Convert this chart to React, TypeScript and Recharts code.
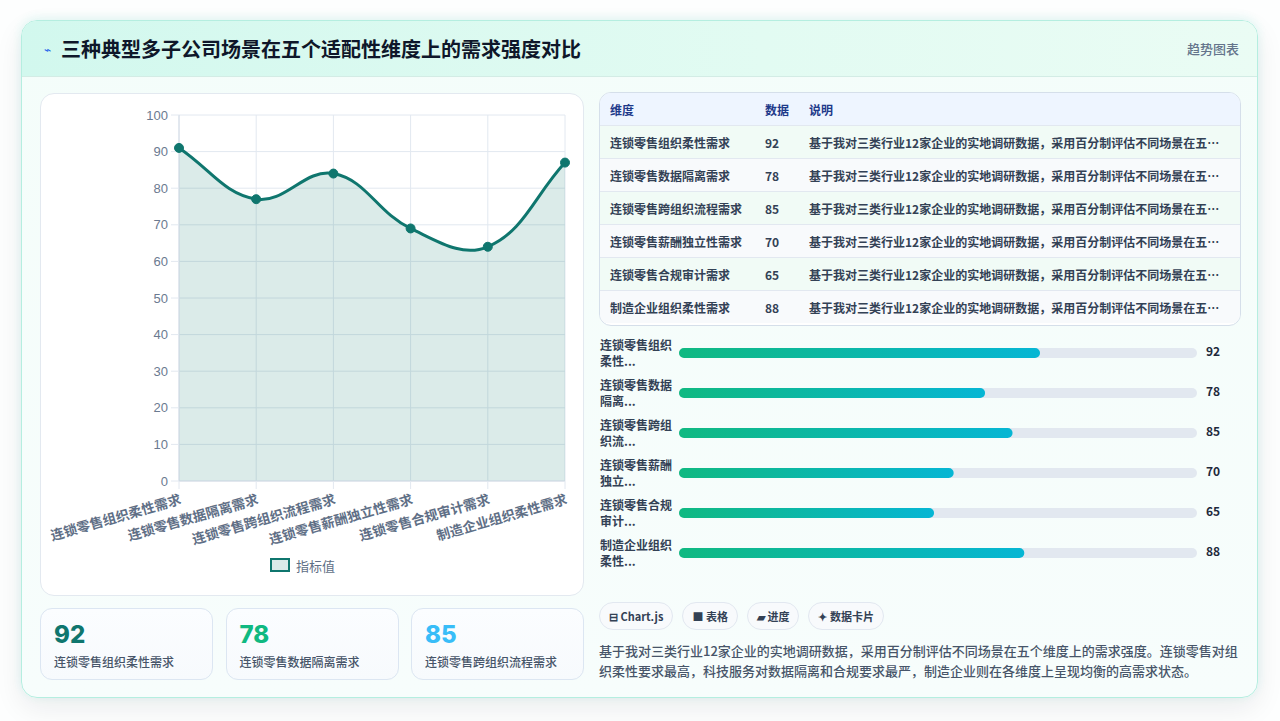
import React from "react";
import {
  Area,
  AreaChart,
  Bar,
  BarChart,
  CartesianGrid,
  Legend,
  XAxis,
  YAxis,
} from "recharts";

const dimensions = [
  "连锁零售组织柔性需求",
  "连锁零售数据隔离需求",
  "连锁零售跨组织流程需求",
  "连锁零售薪酬独立性需求",
  "连锁零售合规审计需求",
  "制造企业组织柔性需求",
];
// values in the table / progress rows
const scores = [92, 78, 85, 70, 65, 88];
// values as plotted in the line chart
const lineValues = [91, 77, 84, 69, 64, 87];
const yTicks = [0, 10, 20, 30, 40, 50, 60, 70, 80, 90, 100];
const progressMax = 132;

const title = "三种典型多子公司场景在五个适配性维度上的需求强度对比";
const note =
  "基于我对三类行业12家企业的实地调研数据，采用百分制评估不同场景在五个维度上的需求强度。";
const summary =
  note +
  "连锁零售对组织柔性要求最高，科技服务对数据隔离和合规要求最严，制造企业则在各维度上呈现均衡的高需求状态。";
const badges = ["⊟ Chart.js", "■ 表格", "▰ 进度", "✦ 数据卡片"];
const cardColors = ["#0f766e", "#10b981", "#38bdf8"];

const lineData = dimensions.map((d, i) => ({ name: d, 指标值: lineValues[i] }));
const progressData = dimensions.map((d, i) => ({ name: d, score: scores[i] }));

const FONT = '"Noto Sans CJK SC", "Noto Sans", sans-serif';

// chart.js style bezier (tension 0.4)
const tensionCurve = (tension: number) => (context: any) => {
  let pts: number[][] = [];
  let line = NaN;
  return {
    areaStart() { line = 0; },
    areaEnd() { line = NaN; },
    lineStart() { pts = []; },
    point(x: number, y: number) { pts.push([+x, +y]); },
    lineEnd() {
      const n = pts.length;
      if (n) {
        if (line) context.lineTo(pts[0][0], pts[0][1]);
        else context.moveTo(pts[0][0], pts[0][1]);
        const cps = pts.map((p, i) => {
          const prev = pts[Math.max(0, i - 1)];
          const next = pts[Math.min(n - 1, i + 1)];
          const d01 = Math.hypot(p[0] - prev[0], p[1] - prev[1]);
          const d12 = Math.hypot(next[0] - p[0], next[1] - p[1]);
          const sum = d01 + d12 || 1;
          const fa = (tension * d01) / sum;
          const fb = (tension * d12) / sum;
          return {
            px: p[0] - fa * (next[0] - prev[0]),
            py: p[1] - fa * (next[1] - prev[1]),
            nx: p[0] + fb * (next[0] - prev[0]),
            ny: p[1] + fb * (next[1] - prev[1]),
          };
        });
        for (let i = 1; i < n; i++) {
          context.bezierCurveTo(cps[i - 1].nx, cps[i - 1].ny, cps[i].px, cps[i].py, pts[i][0], pts[i][1]);
        }
      }
      if (line || (line !== 0 && n === 1)) context.closePath();
      line = 1 - line;
    },
  };
};

const XTick = (props: any) => {
  const { x, y, payload } = props;
  const ty = y + 11;
  return (
    <text
      x={x + 2}
      y={ty}
      textAnchor="end"
      dominantBaseline="middle"
      transform={`rotate(-16, ${x + 2}, ${ty})`}
      fill="#5f6f86"
      fontSize={13.5}
      fontWeight={600}
      fontFamily={FONT}
    >
      {payload.value}
    </text>
  );
};

const LegendBox = () => (
  <div style={{ display: "flex", justifyContent: "center", alignItems: "flex-start", height: 40, boxSizing: "border-box", marginTop: 1 }}>
    <div style={{ display: "flex", alignItems: "center", height: 16 }}>
      <span style={{ width: 16, height: 10, border: "2.5px solid #0f766e", background: "#dbeae9", marginRight: 6 }} />
      <span style={{ fontSize: 13, color: "#5f6f86", fontFamily: FONT }}>指标值</span>
    </div>
  </div>
);

const LabelTick = (props: any) => {
  const { y, payload } = props;
  const name: string = payload.value;
  return (
    <text x={5} y={y} fill="#334155" fontSize={12} fontWeight={600} fontFamily={FONT}>
      <tspan x={5} dy={-3}>{name.slice(0, 6)}</tspan>
      <tspan x={5} dy={16}>{name.slice(6, 8) + "..."}</tspan>
    </text>
  );
};

const ValueTick = (props: any) => {
  const { x, y, payload } = props;
  return (
    <text x={x} y={y} dominantBaseline="middle" fill="#1e293b" fontSize={12} fontWeight={700} fontFamily={FONT}>
      {payload.value}
    </text>
  );
};

const cell: React.CSSProperties = {
  padding: "0 0 0 10px",
  height: 32,
  whiteSpace: "nowrap",
  overflow: "hidden",
  textOverflow: "ellipsis",
  borderTop: "1px solid #e2e8f0",
};

export default function App() {
  return (
    <div style={{ position: "fixed", left: 0, top: 0, width: 1280, height: 721, background: "#fdfefe", fontFamily: FONT, overflow: "hidden" }}>
      <div
        style={{
          position: "absolute",
          left: 21,
          top: 20,
          width: 1237,
          height: 678,
          boxSizing: "border-box",
          border: "1px solid #b5eee0",
          borderRadius: 16,
          background: "linear-gradient(180deg, #f4fdfa 0%, #f7fdfc 100%)",
          boxShadow: "0 10px 28px rgba(15,23,42,0.08), 0 -2px 10px rgba(45,212,191,0.12)",
          overflow: "hidden",
        }}
      >
        {/* header */}
        <div
          style={{
            height: 56,
            boxSizing: "border-box",
            borderBottom: "1px solid #d3ece5",
            background: "linear-gradient(90deg, #d2f8ee 0%, #e2fbf2 60%, #eafcf4 100%)",
            display: "flex",
            alignItems: "center",
            padding: "0 18px 0 22px",
          }}
        >
          <span style={{ color: "#2563eb", fontSize: 12, marginRight: 10 }}>⌁</span>
          <span style={{ fontSize: 20, fontWeight: 700, color: "#0f172a" }}>{title}</span>
          <span style={{ marginLeft: "auto", fontSize: 13, color: "#64748b", fontWeight: 500 }}>趋势图表</span>
        </div>
      </div>

      {/* line chart card */}
      <div style={{ position: "absolute", left: 40, top: 93, width: 544, height: 503, boxSizing: "border-box", background: "#fff", border: "1px solid #e3e9f0", borderRadius: 14 }}>
        <div style={{ position: "absolute", left: -1, top: -1 }}>
          <AreaChart width={544} height={503} data={lineData} margin={{ top: 22, right: 19, left: 0, bottom: 0 }}>
            <CartesianGrid stroke="#e2e8f0" strokeWidth={1} />
            <XAxis
              dataKey="name"
              interval={0}
              height={75}
              tick={<XTick />}
              tickSize={8}
              tickMargin={0}
              tickLine={{ stroke: "#e2e8f0" }}
              axisLine={{ stroke: "#d3dce6" }}
            />
            <YAxis
              domain={[0, 100]}
              ticks={yTicks}
              width={139}
              tickSize={8}
              tickMargin={3}
              tickLine={{ stroke: "#e2e8f0" }}
              axisLine={{ stroke: "#d3dce6" }}
              tick={{ fill: "#6b7a90", fontSize: 13, fontFamily: "Liberation Sans, Arial, sans-serif" }}
            />
            <Legend verticalAlign="bottom" height={40} content={<LegendBox />} />
            <Area
              dataKey="指标值"
              type={tensionCurve(0.4) as any}
              stroke="#0f766e"
              strokeWidth={3}
              fill="#0f766e"
              fillOpacity={0.15}
              dot={{ r: 4.5, fill: "#0f766e", stroke: "#0f766e", strokeWidth: 1, fillOpacity: 1 }}
              activeDot={false}
              isAnimationActive={false}
            />
          </AreaChart>
        </div>
      </div>

      {/* metric cards */}
      {[0, 1, 2].map((i) => (
        <div
          key={i}
          style={{
            position: "absolute",
            left: 40 + i * 185.5,
            top: 608,
            width: 173,
            height: 72,
            boxSizing: "border-box",
            border: "1px solid #dce6f2",
            borderRadius: 12,
            background: "linear-gradient(180deg, #fbfdff, #f7fafd)",
            padding: "12px 0 0 13px",
          }}
        >
          <div style={{ fontSize: 24, fontWeight: 800, color: cardColors[i], lineHeight: "28px", fontFamily: "Inter, Roboto, sans-serif" }}>{scores[i]}</div>
          <div style={{ fontSize: 12, color: "#475569", marginTop: 4, fontWeight: 500 }}>{dimensions[i]}</div>
        </div>
      ))}

      {/* table */}
      <div style={{ position: "absolute", left: 599, top: 92, width: 642, height: 234, boxSizing: "border-box", border: "1px solid #d5dfea", borderRadius: 12, overflow: "hidden", background: "#fff" }}>
        <table style={{ width: "100%", borderCollapse: "collapse", tableLayout: "fixed", fontSize: 12, color: "#334155", fontWeight: 600 }}>
          <colgroup>
            <col style={{ width: 155 }} />
            <col style={{ width: 44 }} />
            <col />
          </colgroup>
          <thead>
            <tr style={{ background: "#eef5ff", color: "#1e3a8a", fontWeight: 700 }}>
              <th style={{ ...cell, borderTop: "none", textAlign: "left" }}>维度</th>
              <th style={{ ...cell, borderTop: "none", textAlign: "left" }}>数据</th>
              <th style={{ ...cell, borderTop: "none", textAlign: "left", paddingRight: 14 }}>说明</th>
            </tr>
          </thead>
          <tbody>
            {dimensions.map((d, i) => (
              <tr key={d} style={{ background: i % 2 === 0 ? "#f1fbf6" : "#f8fafc" }}>
                <td style={cell}>{d}</td>
                <td style={cell}>{scores[i]}</td>
                <td style={{ ...cell, paddingRight: 14 }}>{note}</td>
              </tr>
            ))}
          </tbody>
        </table>
      </div>

      {/* progress rows */}
      <div style={{ position: "absolute", left: 595, top: 333 }}>
        <BarChart width={650} height={240} data={progressData} layout="vertical" margin={{ top: 0, right: 0, bottom: 0, left: 0 }}>
          <defs>
            <linearGradient id="prog" x1="0" y1="0" x2="1" y2="0">
              <stop offset="0%" stopColor="#10b981" />
              <stop offset="100%" stopColor="#06b6d4" />
            </linearGradient>
          </defs>
          <XAxis type="number" domain={[0, progressMax]} hide />
          <YAxis type="category" dataKey="name" width={84} axisLine={false} tickLine={false} tick={<LabelTick />} interval={0} />
          <YAxis yAxisId="v" type="category" dataKey="score" orientation="right" width={48} axisLine={false} tickLine={false} tickMargin={3} tick={<ValueTick />} interval={0} />
          <Bar dataKey="score" barSize={10} radius={5} fill="url(#prog)" background={{ fill: "#e2e8f0", radius: 5 } as any} isAnimationActive={false} />
        </BarChart>
      </div>

      {/* badges */}
      <div style={{ position: "absolute", left: 599, top: 602, display: "flex", gap: 9 }}>
        {badges.map((b) => (
          <div
            key={b}
            style={{
              height: 28,
              boxSizing: "border-box",
              padding: "0 9px",
              border: "1px solid #e2e8f0",
              borderRadius: 14,
              background: "#f8fafc",
              fontSize: 11,
              fontWeight: 700,
              color: "#334155",
              display: "flex",
              alignItems: "center",
            }}
          >
            {b}
          </div>
        ))}
      </div>

      {/* summary */}
      <div style={{ position: "absolute", left: 599, top: 641, width: 645, fontSize: 13, lineHeight: "20px", color: "#475569", fontWeight: 500 }}>
        {summary}
      </div>
    </div>
  );
}
